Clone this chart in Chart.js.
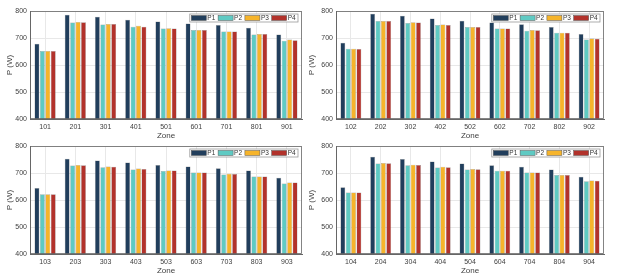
<!DOCTYPE html>
<html>
<head>
<meta charset="utf-8">
<script src="https://cdn.jsdelivr.net/npm/chart.js@4/dist/chart.umd.min.js"></script>
<style>
  body { margin: 0; background: #fff; }
  #wrap { position: relative; width: 634px; height: 277px; overflow: hidden; }
  .box { position: absolute; }
</style>
</head>
<body>
<div id="wrap">
  <div class="box" style="left:0;top:0;width:306px;height:141px"><canvas id="c1"></canvas></div>
  <div class="box" style="left:302px;top:0;width:332px;height:141px"><canvas id="c2"></canvas></div>
  <div class="box" style="left:0;top:135px;width:306px;height:141px"><canvas id="c3"></canvas></div>
  <div class="box" style="left:302px;top:135px;width:332px;height:141px"><canvas id="c4"></canvas></div>
</div>
<script>
const seriesNames = ["P1", "P2", "P3", "P4"];
const colors = ["#213e5c", "#5fcac3", "#f6b42b", "#b2322b"];
const yTicks = [400, 500, 600, 700, 800];

// top left
const zonesA = ["101", "201", "301", "401", "501", "601", "701", "801", "901"];
const p1A = [679, 786, 779, 768, 761, 754, 748, 738, 713];
const p2A = [652, 757, 750, 742, 735, 730, 724, 713, 690];
const p3A = [652, 759, 752, 745, 736, 730, 724, 715, 694];
const p4A = [652, 758, 752, 742, 735, 730, 724, 715, 692];

// top right
const zonesB = ["102", "202", "302", "402", "502", "602", "702", "802", "902"];
const p1B = [682, 790, 782, 772, 764, 757, 751, 741, 715];
const p2B = [660, 763, 756, 748, 741, 735, 727, 719, 694];
const p3B = [660, 763, 758, 750, 741, 735, 730, 719, 698];
const p4B = [659, 763, 757, 748, 741, 735, 729, 719, 697];

// bottom left
const zonesC = ["103", "203", "303", "403", "503", "603", "703", "803", "903"];
const p1C = [644, 753, 746, 739, 730, 724, 718, 709, 682];
const p2C = [621, 728, 721, 713, 707, 702, 694, 687, 661];
const p3C = [621, 730, 724, 717, 709, 702, 697, 687, 665];
const p4C = [621, 729, 723, 715, 709, 702, 696, 687, 665];

// bottom right
const zonesD = ["104", "204", "304", "404", "504", "604", "704", "804", "904"];
const p1D = [647, 760, 752, 743, 735, 729, 723, 713, 686];
const p2D = [628, 735, 729, 720, 713, 708, 702, 693, 669];
const p3D = [628, 737, 731, 723, 715, 708, 702, 693, 672];
const p4D = [628, 736, 730, 721, 714, 708, 702, 693, 671];

const FONT = "'Liberation Sans', Arial, sans-serif";
const TXT = "#404040";

// box around plot + legend inside top right
const framePlugin = {
  id: "frameLegend",
  afterDatasetsDraw(chart) {
    const ctx = chart.ctx, a = chart.chartArea;
    ctx.save();
    ctx.strokeStyle = "#666";
    ctx.lineWidth = 0.8;
    ctx.strokeRect(a.left + 0.5, a.top + 0.5, a.right - a.left - 1, a.bottom - a.top - 1);

    const ds = chart.data.datasets;
    const entryW = 26.8, boxH = 8;
    const boxW = ds.length * entryW + 1;
    const x0 = a.right - 4 - boxW, y0 = a.top + 3;
    ctx.fillStyle = "#fff";
    ctx.fillRect(x0, y0, boxW, boxH);
    ctx.strokeStyle = "#999";
    ctx.strokeRect(x0, y0, boxW, boxH);
    ctx.font = "6.5px " + FONT;
    ctx.textBaseline = "middle";
    ds.forEach((d, i) => {
      const x = x0 + 1.5 + i * entryW;
      ctx.fillStyle = d.backgroundColor;
      ctx.fillRect(x, y0 + 1.5, 15, 5);
      ctx.strokeStyle = "#555";
      ctx.lineWidth = 0.5;
      ctx.strokeRect(x, y0 + 1.5, 15, 5);
      ctx.fillStyle = "#333";
      ctx.fillText(d.label, x + 16, y0 + boxH / 2 + 0.3);
    });
    ctx.restore();
  }
};

function makeChart(id, labels, series, yW, rightPad) {
  new Chart(document.getElementById(id), {
    type: "bar",
    data: {
      labels: labels,
      datasets: series.map((s, i) => ({
        label: seriesNames[i],
        data: s,
        backgroundColor: colors[i],
        borderColor: "rgba(110,110,110,0.7)",
        borderWidth: 0.5,
        categoryPercentage: 0.72,
        barPercentage: 0.9
      }))
    },
    options: {
      responsive: true,
      maintainAspectRatio: false,
      animation: false,
      layout: { padding: { top: 11, left: 0, right: rightPad, bottom: 0 } },
      plugins: { legend: { display: false }, tooltip: { enabled: false } },
      scales: {
        x: {
          grid: { color: "#e8e8e8", offset: false, drawTicks: false },
          border: { color: "#666" },
          ticks: { color: TXT, font: { family: FONT, size: 7 }, padding: 4, maxRotation: 0 },
          title: { display: true, text: "Zone", color: TXT, font: { family: FONT, size: 8 }, padding: 0 },
          afterFit: (s) => { s.height = 22; }
        },
        y: {
          min: 400,
          max: 800,
          afterBuildTicks: (s) => { s.ticks = yTicks.map((v) => ({ value: v })); },
          grid: { color: "#e8e8e8", drawTicks: false },
          border: { color: "#666" },
          ticks: { color: TXT, font: { family: FONT, size: 7 }, padding: 3 },
          title: { display: true, text: "P (W)", color: TXT, font: { family: FONT, size: 8 }, padding: { top: 5, bottom: 0 } },
          afterFit: (s) => { s.width = yW; }
        }
      }
    },
    plugins: [framePlugin]
  });
}

makeChart("c1", zonesA, [p1A, p2A, p3A, p4A], 30, 4);
makeChart("c2", zonesB, [p1B, p2B, p3B, p4B], 34, 30);
makeChart("c3", zonesC, [p1C, p2C, p3C, p4C], 30, 4);
makeChart("c4", zonesD, [p1D, p2D, p3D, p4D], 34, 30);
</script>
</body>
</html>
